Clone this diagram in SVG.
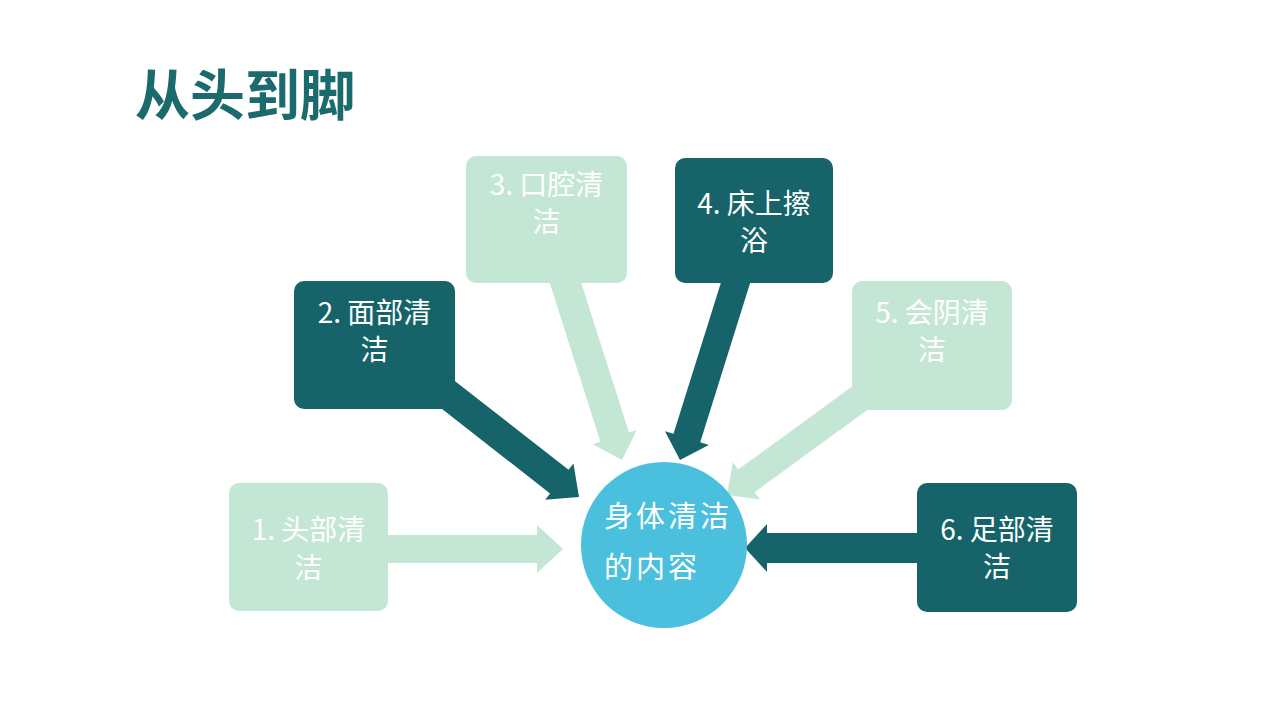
<svg xmlns="http://www.w3.org/2000/svg" width="1280" height="720" viewBox="0 0 1280 720">
  <style>
    .dark { fill: #16646A; }
    .light { fill: #C4E6D5; }
    .lbl { font-family: "Noto Sans CJK SC", "Liberation Sans", sans-serif; font-size: 28px; fill: #FFFFFF; text-anchor: middle; }
    .ctr { font-family: "Noto Sans CJK SC", "Liberation Sans", sans-serif; font-size: 29px; fill: #FFFFFF; letter-spacing: 3px; }
    .title { font-family: "Noto Sans CJK SC", "Liberation Sans", sans-serif; font-size: 55px; font-weight: bold; fill: #1B6A6E; }
  </style>
  <rect width="1280" height="720" fill="#FFFFFF"/>
  <text class="title" x="135" y="115">从头到脚</text>

  <g id="connectors">
    <polygon class="light" transform="translate(563,549)" points="-183,-14 -26,-14 -26,-24 0,0 -26,24 -26,14 -183,14"/>
    <polygon class="dark" transform="translate(579,497) rotate(38)" points="-175,-15 -25,-15 -25,-23 0,0 -25,23 -25,15 -175,15"/>
    <polygon class="light" transform="translate(622,460) rotate(72.3)" points="-199,-15 -24,-15 -24,-23 0,0 -24,23 -24,15 -199,15"/>
    <polygon class="dark" transform="translate(680,460) rotate(107.4)" points="-199,-14 -23,-14 -23,-23 0,0 -23,23 -23,14 -199,14"/>
    <polygon class="light" transform="translate(727,495) rotate(143.9)" points="-177,-14 -24,-14 -24,-23 0,0 -24,23 -24,14 -177,14"/>
    <polygon class="dark" transform="translate(745,548) rotate(180)" points="-185,-15 -22,-15 -22,-24 0,0 -22,24 -22,15 -185,15"/>
  </g>

  <g id="node1">
    <rect class="light" x="229" y="483" width="159" height="128" rx="10"/>
    <text class="lbl" x="308.5" y="540">1. 头部清</text>
    <text class="lbl" x="308.5" y="578">洁</text>
  </g>
  <g id="node2">
    <rect class="dark" x="294" y="281" width="161" height="128" rx="10"/>
    <text class="lbl" x="374.5" y="323">2. 面部清</text>
    <text class="lbl" x="374.5" y="360">洁</text>
  </g>
  <g id="node3">
    <rect class="light" x="466" y="156" width="161" height="127" rx="10"/>
    <text class="lbl" x="546.5" y="195">3. 口腔清</text>
    <text class="lbl" x="546.5" y="232">洁</text>
  </g>
  <g id="node4">
    <rect class="dark" x="675" y="158" width="158" height="125" rx="10"/>
    <text class="lbl" x="754" y="214">4. 床上擦</text>
    <text class="lbl" x="754" y="251">浴</text>
  </g>
  <g id="node5">
    <rect class="light" x="852" y="281" width="160" height="129" rx="10"/>
    <text class="lbl" x="932" y="323">5. 会阴清</text>
    <text class="lbl" x="932" y="360">洁</text>
  </g>
  <g id="node6">
    <rect class="dark" x="917" y="483" width="160" height="129" rx="10"/>
    <text class="lbl" x="997" y="540">6. 足部清</text>
    <text class="lbl" x="997" y="577">洁</text>
  </g>
  <g id="center">
    <circle cx="664" cy="545" r="83" fill="#4BC0DE"/>
    <text class="ctr" x="604" y="527">身体清洁</text>
    <text class="ctr" x="604" y="578">的内容</text>
  </g>
</svg>
